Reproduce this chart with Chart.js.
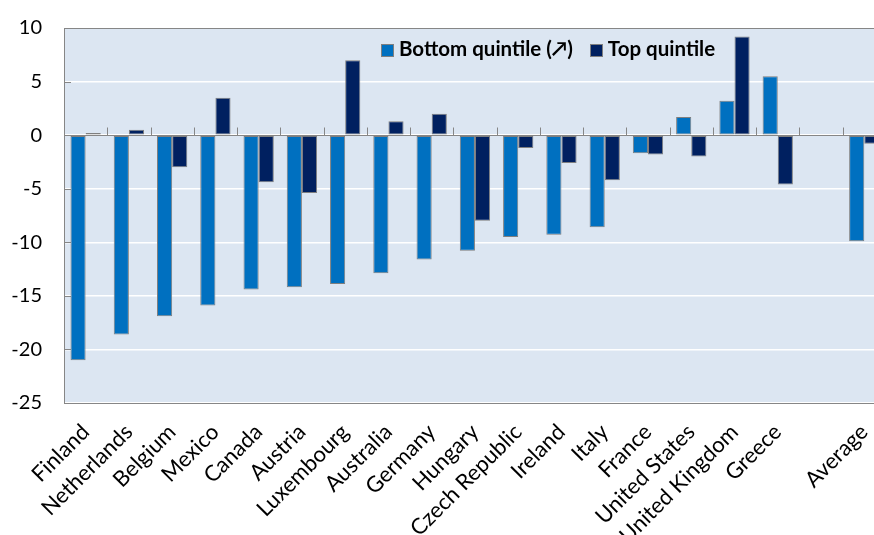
<!DOCTYPE html>
<html>
<head>
<meta charset="utf-8">
<script src="https://cdn.jsdelivr.net/npm/chart.js@4.4.1/dist/chart.umd.min.js"></script>
<style>
  html, body { margin: 0; padding: 0; background: #fff; overflow: hidden; }
  #wrap { position: relative; width: 874px; height: 535px; overflow: hidden; }
  #chart { position: absolute; left: 0; top: -6px; }
  #legend {
    position: absolute; left: 381px; top: 36px;
    font-family: Lato, "Open Sans", sans-serif; font-weight: bold; font-size: 20.5px;
    color: #000; white-space: nowrap;
  }
  #legend span.item { margin-right: 12px; }
  #legend i {
    display: inline-block; width: 11px; height: 11px; border: 1px solid #7f7f7f;
    margin-right: 5px; vertical-align: -1px;
  }
</style>
</head>
<body>
<div id="wrap">
  <canvas id="chart" width="899" height="541"></canvas>
  <div id="legend">
    <span class="item"><i style="background:#0070c0"></i>Bottom quintile (↗)</span>
    <span class="item"><i style="background:#002060"></i>Top quintile</span>
  </div>
</div>
<script>
// Categories (blank slot before Average)
const countries = ["Finland", "Netherlands", "Belgium", "Mexico", "Canada", "Austria",
    "Luxembourg", "Australia", "Germany", "Hungary", "Czech Republic", "Ireland", "Italy",
    "France", "United States", "United Kingdom", "Greece", "", "Average"];

// Series values
const bottomQuintile = [-21.0, -18.6, -16.9, -15.9, -14.4, -14.2, -13.9, -12.9, -11.6,
    -10.8, -9.5, -9.3, -8.6, -1.7, 1.7, 3.2, 5.5, null, -9.9];
const topQuintile = [0.2, 0.5, -3.0, 3.5, -4.4, -5.4, 7.0, 1.3, 2.0,
    -8.0, -1.2, -2.6, -4.2, -1.8, -2.0, 9.2, -4.6, null, -0.8];

const yTicks = [10, 5, 0, -5, -10, -15, -20, -25];

const FONT = "Lato, 'Open Sans', sans-serif";

// plot background, frame, and the tick marks sitting on the zero line
const plotDecor = {
    id: "plotDecor",
    beforeDraw(chart) {
        const { ctx, chartArea: a } = chart;
        ctx.save();
        ctx.fillStyle = "#dce6f2";
        ctx.fillRect(a.left, a.top, a.right - a.left, a.bottom - a.top);
        ctx.restore();
    },
    afterDatasetsDraw(chart) {
        const { ctx, chartArea: a, scales } = chart;
        const x = scales.x, y = scales.y;
        ctx.save();
        ctx.strokeStyle = "#868686";
        ctx.lineWidth = 1;
        ctx.strokeRect(a.left + 0.5, a.top + 0.5, a.right - a.left, a.bottom - a.top);
        const y0 = Math.round(y.getPixelForValue(0)) + 0.5;
        ctx.beginPath();
        ctx.moveTo(a.left, y0);
        ctx.lineTo(a.right, y0);
        for (let i = 0; i <= countries.length; i++) {
            const px = Math.round(x.getPixelForValue(i - 0.5)) + 0.5;
            ctx.moveTo(px, y0);
            ctx.lineTo(px, y0 - 8);
        }
        yTicks.forEach(v => {
            const py = Math.round(y.getPixelForValue(v)) + 0.5;
            ctx.moveTo(a.left, py);
            ctx.lineTo(a.left + 7, py);
        });
        ctx.stroke();
        ctx.restore();
    }
};

new Chart(document.getElementById("chart"), {
    type: "bar",
    data: {
        labels: countries,
        datasets: [
            {
                label: "Bottom quintile (↗)",
                data: bottomQuintile,
                backgroundColor: "#0070c0",
                borderColor: "#7f7f7f",
                borderWidth: 1,
                borderSkipped: false
            },
            {
                label: "Top quintile",
                data: topQuintile,
                backgroundColor: "#002060",
                borderColor: "#7f7f7f",
                borderWidth: 1,
                borderSkipped: false
            }
        ]
    },
    options: {
        responsive: false,
        animation: false,
        categoryPercentage: 0.7,
        barPercentage: 1.0,
        layout: { padding: { top: 23, right: 2, left: 0, bottom: 0 } },
        plugins: {
            legend: { display: false },
            tooltip: { enabled: false }
        },
        scales: {
            x: {
                grid: { display: false, drawTicks: false },
                border: { display: false },
                ticks: {
                    color: "#000",
                    font: { family: FONT, size: 22 },
                    minRotation: 45,
                    maxRotation: 45,
                    autoSkip: false,
                    padding: 16
                },
                afterFit: s => { s.height = 132; }
            },
            y: {
                min: -25,
                max: 10,
                afterBuildTicks: s => { s.ticks = yTicks.map(v => ({ value: v })); },
                grid: { color: "#ffffff", lineWidth: 1.5, drawTicks: false },
                border: { display: false },
                ticks: {
                    color: "#000",
                    font: { family: FONT, size: 20 },
                    padding: 22
                },
                afterFit: s => { s.width = 64; }
            }
        }
    },
    plugins: [plotDecor]
});
</script>
</body>
</html>
